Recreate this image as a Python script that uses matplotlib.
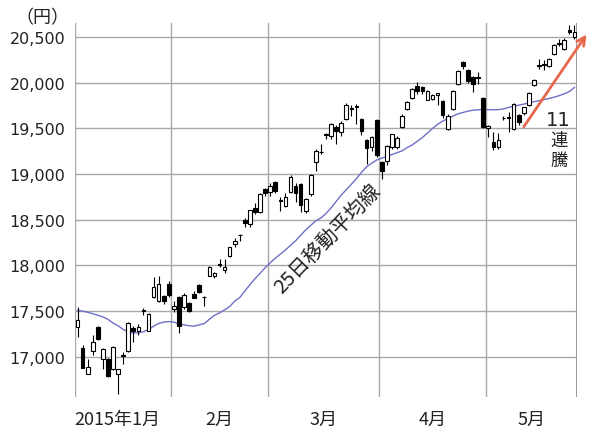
import matplotlib
matplotlib.use("Agg")
import matplotlib.pyplot as plt
import numpy as np

# daily candles, 2015-01-05 .. 2015-05-29
opens = [17325, 17101, 16808, 17069, 17325, 16978, 16978, 16870, 16810, 17010,
         17069, 17317, 17288, 17500, 17288, 17653, 17616, 17667, 17799,
         17525, 17653, 17544, 17591, 17689, 17791, 17660, 17890, 17880, 18017,
         17955, 18101, 18236, 18330, 18499, 18455, 18630, 18583, 18840,
         18800, 18911, 18720, 18655, 18802, 18874, 18893, 18600, 18783, 19130,
         19240, 19430, 19414, 19513, 19464, 19601, 19720, 19740, 19601, 19370, 19295, 19590,
         19130, 19148, 19294, 19294, 19513, 19713, 19835, 19970, 19952, 19817,
         19824, 19870, 19805, 19494, 19713, 19988, 20225, 20144, 20060, 20060, 19835,
         19502, 19356, 19294, 19610, 19610, 19494, 19648, 19669, 19761, 19977,
         20180, 20190, 20187, 20315, 20430, 20369, 20580, 20500]
highs = [17540, 17124, 16980, 17234, 17336, 17100, 16990, 17120, 16870, 17050,
         17380, 17336, 17360, 17530, 17480, 17871, 17880, 17680, 17830,
         17610, 17670, 17700, 17600, 17720, 17800, 17670, 17990, 17930, 18072,
         18070, 18200, 18300, 18350, 18520, 18610, 18680, 18790, 18850,
         18900, 18930, 18750, 18790, 18990, 18900, 18900, 18740, 19000, 19270,
         19330, 19450, 19560, 19540, 19580, 19780, 19760, 19765, 19620, 19390, 19420, 19600,
         19140, 19320, 19440, 19420, 19660, 19800, 19940, 20006, 19960, 19920,
         19880, 19890, 19810, 19660, 19920, 20140, 20242, 20150, 20070, 20118, 19840,
         19540, 19458, 19450, 19640, 19677, 19780, 19660, 19740, 19900, 20040,
         20260, 20250, 20270, 20420, 20480, 20490, 20632, 20630]
lows = [17219, 16880, 16808, 17015, 17183, 16869, 16780, 16860, 16592, 16925,
        17050, 17164, 17240, 17460, 17280, 17640, 17600, 17580, 17660,
        17490, 17263, 17520, 17490, 17640, 17700, 17560, 17880, 17860, 17980,
        17920, 18090, 18200, 18270, 18420, 18420, 18560, 18570, 18760,
        18760, 18790, 18600, 18640, 18790, 18700, 18583, 18570, 18760, 19038,
        19220, 19380, 19380, 19330, 19420, 19590, 19640, 19549, 19430, 19112, 19250, 19190,
        18947, 19100, 19280, 19270, 19500, 19700, 19820, 19880, 19880, 19810,
        19810, 19760, 19620, 19480, 19700, 19980, 20151, 20000, 19896, 19990, 19500,
        19404, 19265, 19270, 19590, 19458, 19480, 19540, 19650, 19750, 19960,
        20150, 20140, 20170, 20300, 20400, 20360, 20530, 20480]
closes = [17408, 16883, 16885, 17167, 17197, 17087, 16795, 17108, 16864, 17014,
          17366, 17280, 17329, 17511, 17468, 17768, 17795, 17606, 17674,
          17558, 17335, 17678, 17504, 17648, 17711, 17652, 17979, 17913, 18004,
          17987, 18199, 18264, 18332, 18466, 18603, 18585, 18785, 18797,
          18870, 18815, 18703, 18751, 18971, 18790, 18665, 18723, 18991, 19254,
          19246, 19437, 19544, 19476, 19560, 19754, 19713, 19746, 19471, 19285, 19411, 19206,
          19034, 19312, 19435, 19397, 19641, 19789, 19937, 19907, 19905, 19908,
          19869, 19885, 19653, 19634, 19909, 20133, 20187, 20020, 19983, 20058, 19520,
          19531, 19292, 19379, 19620, 19624, 19764, 19570, 19732, 19890, 20026,
          20196, 20202, 20264, 20413, 20437, 20473, 20551, 20554]

# 25-day moving average as drawn in the picture
ma25 = [17510, 17500, 17488, 17472, 17455, 17437, 17410, 17370, 17340, 17300,
        17272, 17262, 17262, 17275, 17299, 17335, 17365, 17380, 17386,
        17380, 17360, 17350, 17340, 17336, 17350, 17365, 17410, 17455, 17480,
        17515, 17550, 17610, 17650, 17720, 17790, 17855, 17915, 17975,
        18030, 18080, 18125, 18170, 18220, 18270, 18330, 18390, 18440, 18490,
        18520, 18570, 18630, 18700, 18770, 18830, 18890, 18950, 19020, 19080, 19120, 19155,
        19175, 19195, 19215, 19235, 19255, 19290, 19320, 19360, 19400, 19450,
        19500, 19545, 19580, 19610, 19635, 19660, 19675, 19690, 19700, 19705, 19706,
        19706, 19706, 19706, 19715, 19730, 19743, 19755, 19767, 19780, 19793,
        19805, 19817, 19829, 19843, 19860, 19880, 19905, 19950]

month_starts = [0, 19, 38, 60, 81]
month_labels = ["2015年1月", "2月", "3月", "4月", "5月"]
yticks = [17000, 17500, 18000, 18500, 19000, 19500, 20000, 20500]

cjk = ["Noto Sans CJK JP", "DejaVu Sans"]
n = len(closes)
x = np.arange(n)

fig = plt.figure(figsize=(6.0, 4.39), dpi=100)
ax = fig.add_axes([75 / 600, 1 - 398 / 439, (577 - 75) / 600, (398 - 24) / 439])

ax.set_xlim(-0.5, n - 0.5)
ax.set_ylim(16560, 20655)

# grid
for v in yticks:
    ax.axhline(v, color="#a8a8a8", lw=1.0, zorder=0)
for s in month_starts:
    ax.axvline(s - 0.5, color="#a8a8a8", lw=1.0, zorder=0)
ax.axvline(n - 0.5, color="#9a9a9a", lw=2.2, zorder=0)

# candles
o = np.array(opens)
c = np.array(closes)
ax.vlines(x, lows, highs, color="black", lw=0.8, zorder=2)
up = c >= o
body = np.where(np.abs(c - o) < 8, 8 * np.sign(c - o + 0.1), c - o)
ax.bar(x[up], body[up], bottom=o[up], width=0.72, color="white",
       edgecolor="black", linewidth=0.8, zorder=3)
ax.bar(x[~up], body[~up], bottom=o[~up], width=0.72, color="black",
       edgecolor="black", linewidth=0.8, zorder=3)

# moving average
ax.plot(x, ma25, color="#6f6fc8", lw=1.0, zorder=1)

# axes styling
for sp in ax.spines.values():
    sp.set_visible(False)
ax.set_yticks(yticks)
ax.set_yticklabels([f"{v:,}" for v in yticks])
ax.tick_params(axis="y", length=0, pad=7, labelsize=11.5, labelcolor="#222222")
for lab in ax.get_yticklabels():
    lab.set_family("DejaVu Sans")

bounds = month_starts + [n]
centers = [(bounds[i] + bounds[i + 1]) / 2 - 0.5 for i in range(len(month_starts))]
centers[0] -= 1.2
ax.set_xticks(centers)
ax.set_xticklabels(month_labels, family=cjk, fontsize=13, color="#222222")
ax.tick_params(axis="x", length=0, pad=9)

fig.text(42 / 600, 1 - 18 / 439, "（円）", family=cjk, fontsize=13,
         color="#222222", ha="center", va="center")

# annotations
ax.text(49.2, 18300, "25日移動平均線", family=cjk, fontsize=14.5, rotation=46,
        rotation_mode="anchor", ha="center", va="center", color="#222222")

ax.annotate("", xy=(100.7, 20555), xytext=(87.7, 19494),
            arrowprops=dict(arrowstyle="->,head_length=0.6,head_width=0.3",
                            color="#e8684f", lw=2.0),
            annotation_clip=False)
ax.text(94.9, 19600, "11", family="DejaVu Sans", fontsize=14, ha="center",
        va="center", color="#222222")
ax.text(94.9, 19380, "連", family=cjk, fontsize=12.5, ha="center", va="center",
        color="#222222")
ax.text(94.9, 19160, "騰", family=cjk, fontsize=12.5, ha="center", va="center",
        color="#222222")

fig.savefig("out.png", dpi=100, facecolor="white")
